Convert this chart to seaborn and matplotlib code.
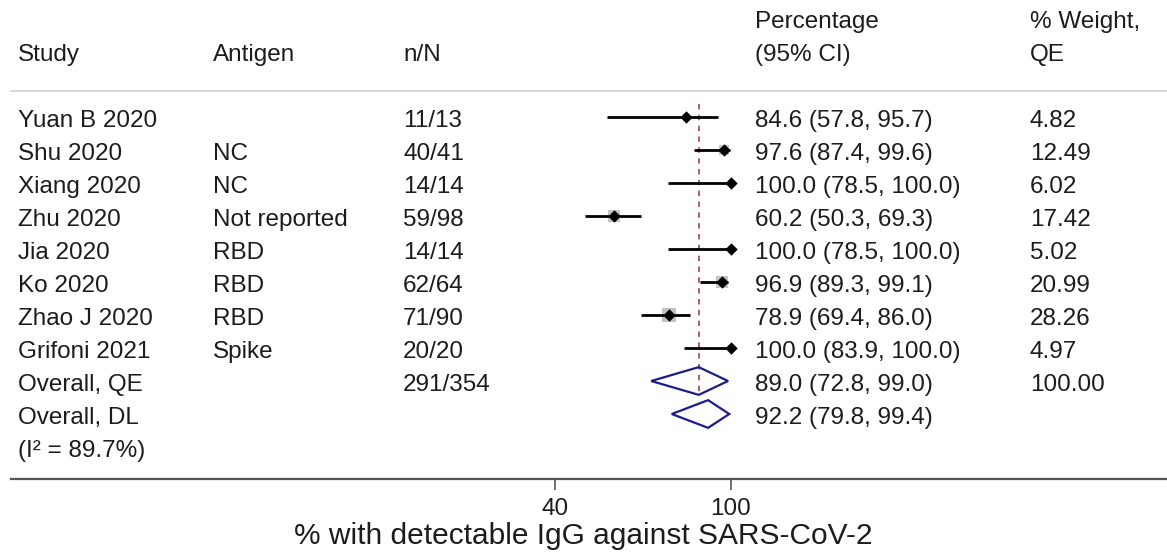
import matplotlib
matplotlib.use("Agg")
import matplotlib.pyplot as plt
import matplotlib.transforms as mtransforms
from matplotlib.patches import Polygon
import seaborn as sns
import pandas as pd
import numpy as np

# ---------------- data ----------------
studies = ["Yuan B 2020", "Shu 2020", "Xiang 2020", "Zhu 2020", "Jia 2020",
           "Ko 2020", "Zhao J 2020", "Grifoni 2021"]
antigens = ["", "NC", "NC", "Not reported", "RBD", "RBD", "RBD", "Spike"]
n_pos = [11, 40, 14, 59, 14, 62, 71, 20]
n_tot = [13, 41, 14, 98, 14, 64, 90, 20]
est = [84.6, 97.6, 100.0, 60.2, 100.0, 96.9, 78.9, 100.0]
lo = [57.8, 87.4, 78.5, 50.3, 78.5, 89.3, 69.4, 83.9]
hi = [95.7, 99.6, 100.0, 69.3, 100.0, 99.1, 86.0, 100.0]
weights = [4.82, 12.49, 6.02, 17.42, 5.02, 20.99, 28.26, 4.97]

overall_labels = ["Overall, QE", "Overall, DL"]
overall_nN = ["291/354", ""]
overall_est = [89.0, 92.2]
overall_lo = [72.8, 79.8]
overall_hi = [99.0, 99.4]
overall_weight = ["100.00", ""]
i2_label = "(I\u00b2 = 89.7%)"

xticks = [40, 100]
xlabel = "% with detectable IgG against SARS-CoV-2"
headers_top = ["", "", "", "Percentage", "% Weight,"]
headers_bot = ["Study", "Antigen", "n/N", "(95% CI)", "QE"]

# ---------------- styling ----------------
sns.set_theme(style="white")
plt.rcParams["font.family"] = ["Liberation Sans", "DejaVu Sans"]
TXT = "#1c1c1c"
FS = 17.5

W, H = 1167, 558
fig = plt.figure(figsize=(W / 100, H / 100), dpi=100)
ax = fig.add_axes([11 / W, 1 - 479 / H, 1 - 11 / W, (479 - 91) / H])

df = pd.DataFrame({"study": studies, "est": est, "lo": lo, "hi": hi, "w": weights})
df["row"] = np.arange(len(df))

# weight boxes
wmin, wmax = min(weights), max(weights)
sns.scatterplot(data=df, x="est", y="row", size="w", size_norm=(wmin, wmax),
                sizes=(4.0 * wmin, 4.0 * wmax), marker="s", color="#c2c2c2",
                linewidth=0, legend=False, ax=ax, zorder=1)
# CI lines
ax.hlines(df["row"], df["lo"], df["hi"], color="black", lw=2.0, zorder=2)
# point estimates
sns.scatterplot(data=df, x="est", y="row", marker="D", s=40, color="black",
                linewidth=0, legend=False, ax=ax, zorder=3)

# overall diamonds
h = 0.42
for k in range(2):
    r = len(df) + k
    poly = Polygon([(overall_lo[k], r), (overall_est[k], r - h),
                    (overall_hi[k], r), (overall_est[k], r + h)],
                   closed=True, fill=False, edgecolor="#1c1c8a", lw=1.6, zorder=3)
    ax.add_patch(poly)

# reference dashed line
ax.vlines(overall_est[0], -0.4, len(df) + h, color="#a8525c",
          linestyles=(0, (3, 3)), lw=1.3, zorder=0)

# axis scaling: 40 -> px 555, 100 -> px 731
ppu = (731 - 555) / 60.0
ax.set_xlim(40 - (555 - 11) / ppu, 100 + (W - 731) / ppu)
ax.set_ylim((479 - 117) / 33.0, (91 - 117) / 33.0)

ax.set_xticks(xticks)
ax.set_xticklabels([str(t) for t in xticks])
ax.tick_params(axis="x", bottom=True, length=8, width=1.2, color="#555555",
               labelsize=FS, pad=6, labelcolor=TXT)
ax.tick_params(axis="y", left=False, labelleft=False)
ax.set_xlabel(xlabel, fontsize=21.5, color=TXT)
ax.xaxis.set_label_coords((583.5 - 11) / (W - 11), -0.112)
ax.set_ylabel("")
for s in ["left", "right"]:
    ax.spines[s].set_visible(False)
ax.spines["top"].set_color("#d6d6d6")
ax.spines["top"].set_linewidth(1.3)
ax.spines["bottom"].set_color("#555555")
ax.spines["bottom"].set_linewidth(1.6)
ax.grid(False)

# text columns
tr = mtransforms.blended_transform_factory(fig.transFigure, ax.transData)
colx = [18, 213, 403, 755, 1030]
off = 0.29


def put(col, row, s):
    if s:
        ax.text(colx[col] / W, row + off, s, transform=tr, ha="left",
                va="baseline", fontsize=FS, color=TXT, clip_on=False)


for c in range(5):
    put(c, -3, headers_top[c])
    put(c, -2, headers_bot[c])

for i in range(len(df)):
    put(0, i, studies[i])
    put(1, i, antigens[i])
    put(2, i, f"{n_pos[i]}/{n_tot[i]}")
    put(3, i, f"{est[i]:.1f} ({lo[i]:.1f}, {hi[i]:.1f})")
    put(4, i, f"{weights[i]:.2f}")

for k in range(2):
    r = len(df) + k
    put(0, r, overall_labels[k])
    put(2, r, overall_nN[k])
    put(3, r, f"{overall_est[k]:.1f} ({overall_lo[k]:.1f}, {overall_hi[k]:.1f})")
    put(4, r, overall_weight[k])
put(0, len(df) + 2, i2_label)

fig.savefig("out.png", dpi=100)
